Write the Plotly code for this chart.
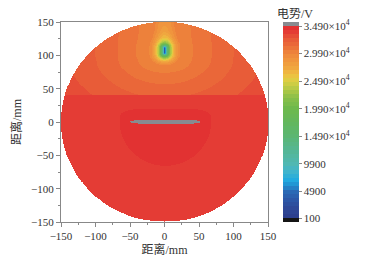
import numpy as np
import plotly.graph_objects as go
from plotly.colors import hex_to_rgb

# ---------------- data ----------------
grid_x = np.arange(-150, 150.01, 0.75)
grid_y = np.arange(-150, 150.01, 0.5)
domain_radius = 150.0

# low-potential probe near the top: radial potential profile
probe_x, probe_y = 0.0, 107.0
probe_half_len = 4.0
probe_dist = [0, 2.4, 7, 12, 17, 22, 41, 68, 100, 140, 200]
probe_volt = [3500, 12000, 21500, 26000, 28400, 29825, 30550, 31275, 32000, 32725, 33450]
# how far the bands reach below / above the probe
below_dy = [0, 10, 20, 30, 46.5, 67]
below_eff = [0, 11, 24, 42, 68, 100]
above_dy = [0, 8, 16, 25, 50]
above_eff = [0, 8, 13, 16, 19]

split_y = 40.0
upper_volt = 33100
lower_volt = 33800

# high-potential electrode in the centre and the band around it
cond_x, cond_y = 1.0, 0.0
cond_a, cond_b = 51.0, 3.2
cond_volt = 35200
halo_radius = 66.0
halo_top = 20.0
halo_volt = 34500

# colour bar
cbar_min, cbar_max, cbar_step = -625, 35625, 725
cbar_ticks = [100, 4900, 9900, 14900, 19900, 24900, 29900, 34900]
cbar_labels = ["100", "4900", "9900", "1.490×10<sup>4</sup>", "1.990×10<sup>4</sup>",
               "2.490×10<sup>4</sup>", "2.990×10<sup>4</sup>", "3.490×10<sup>4</sup>"]
anchor_v = [100, 2000, 3500, 4900, 6000, 7000, 8500, 9900, 12000, 14900, 17500, 19900,
            22000, 23500, 24900, 26000, 27200, 28500, 29900, 30900, 31600, 32400,
            33100, 33800, 34500, 34900]
anchor_c = ["#2c3d8c", "#2e4a99", "#2c58a8", "#2a6ab6", "#2190d0", "#22aadf", "#40b4cc",
            "#50b8b2", "#54b699", "#5bb673", "#63b75c", "#6db94c", "#8cc049", "#b5c946",
            "#dbd043", "#eec141", "#f0a83f", "#f0983d", "#ee863b", "#ec743a", "#ea6839",
            "#e85b38", "#e64d37", "#e43c35", "#e23232", "#e23232"]
below_color = "#151515"
above_color = "#888b90"

# ---------------- field ----------------
X, Y = np.meshgrid(grid_x, grid_y)
dx = X - probe_x
dy = Y - probe_y
dyc = np.maximum(np.abs(dy) - probe_half_len, 0)
eff = np.where(dy >= 0, np.interp(dyc, above_dy, above_eff), np.interp(dyc, below_dy, below_eff))
spot = np.interp(np.hypot(dx, eff), probe_dist, probe_volt)
V = np.where(Y >= split_y, np.minimum(spot, upper_volt), lower_volt)

hx = np.abs(X - cond_x)
hy = Y - cond_y
r = np.where(hy < 0, np.hypot(hx, hy),
             (hx ** 4 + (np.abs(hy) * halo_radius / halo_top) ** 4) ** 0.25)
V = np.where(r < halo_radius, np.maximum(V, halo_volt), V)
V = np.where(np.abs((X - cond_x) / cond_a) ** 4 + ((Y - cond_y) / cond_b) ** 2 < 1, cond_volt, V)
V = np.where(X ** 2 + Y ** 2 > domain_radius ** 2, np.nan, V)

# ---------------- stepped colour scale ----------------
rgb = np.array([hex_to_rgb(c) for c in anchor_c], dtype=float)
edges = np.arange(cbar_min, cbar_max + 1, cbar_step)
span = cbar_max - cbar_min
cscale = []
for lo, hi in zip(edges[:-1], edges[1:]):
    mid = 0.5 * (lo + hi)
    if hi <= cbar_ticks[0]:
        col = below_color
    elif lo >= cbar_ticks[-1]:
        col = above_color
    else:
        c = [np.interp(mid, anchor_v, rgb[:, k]) for k in range(3)]
        col = "rgb(%d,%d,%d)" % tuple(int(round(v)) for v in c)
    cscale.append([(lo - cbar_min) / span, col])
    cscale.append([(hi - cbar_min) / span, col])

fig = go.Figure(go.Heatmap(
    x=grid_x, y=grid_y, z=V, zmin=cbar_min, zmax=cbar_max, zsmooth=False,
    colorscale=cscale, hoverinfo="skip",
    colorbar=dict(x=1.0725, xanchor="left", y=0.5, yanchor="middle", len=1,
                  lenmode="fraction", thickness=16, outlinewidth=0, xpad=0, ypad=0,
                  ticks="outside", ticklen=3, tickcolor="#888",
                  tickvals=cbar_ticks, ticktext=cbar_labels,
                  tickfont=dict(size=11, color="#333")),
))

axis_common = dict(range=[-150, 150], tickvals=[-150, -100, -50, 0, 50, 100, 150],
                   ticks="outside", ticklen=4, tickcolor="#888", showline=True,
                   linecolor="#888", linewidth=1, mirror=True, showgrid=False,
                   zeroline=False, automargin=False,
                   minor=dict(dtick=25, ticks="outside", ticklen=2, tickcolor="#888"),
                   tickfont=dict(size=11, color="#333"))
fig.update_xaxes(**axis_common, title=dict(text="距离/mm", font=dict(size=12, color="#333"), standoff=2))
fig.update_yaxes(**axis_common, title=dict(text="距离/mm", font=dict(size=12, color="#333"), standoff=6))

fig.add_annotation(text="电势/V", xref="paper", yref="paper", x=1.13, y=1.04,
                   xanchor="center", yanchor="middle", showarrow=False,
                   font=dict(size=12, color="#333"))

# the page adds an 8 px body margin, so the figure is 8 px smaller on each axis
fig.update_layout(template="none", width=366, height=252,
                  margin=dict(l=53, r=106, t=14, b=38, autoexpand=False),
                  paper_bgcolor="white", plot_bgcolor="white",
                  font=dict(family="Liberation Serif, Noto Sans CJK SC", size=11, color="#333"))
fig.write_html("out.html")
